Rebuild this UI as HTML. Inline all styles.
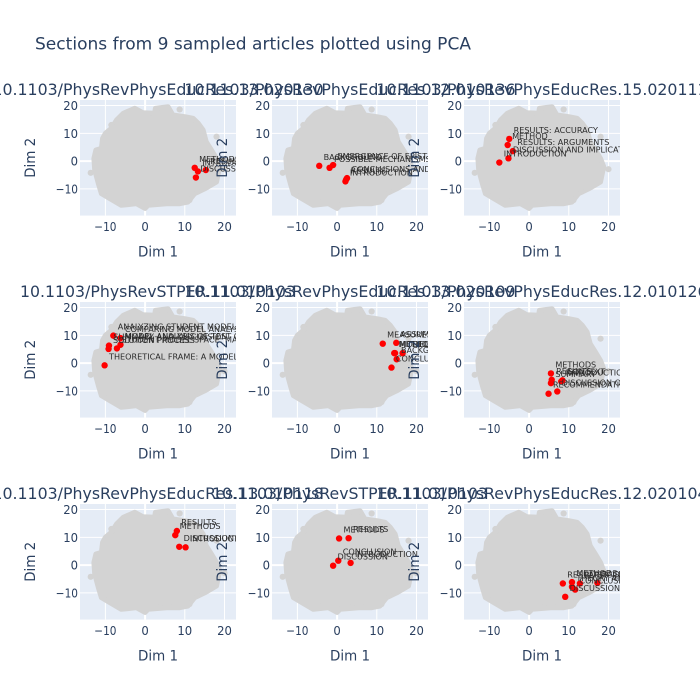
<!DOCTYPE html>
<html>
<head>
<meta charset="utf-8">
<style>
html,body{margin:0;padding:0;background:#fff;width:700px;height:700px;overflow:hidden}
svg{display:block}
text{font-family:"DejaVu Sans","Liberation Sans",sans-serif;fill:#2a3f5f}
</style>
</head>
<body>
<svg id="chart" width="700" height="700" viewBox="0 0 700 700" xmlns="http://www.w3.org/2000/svg">
<defs id="clips"></defs>
<g id="panels"></g>
<g id="overlays"></g>
<text x="35" y="49.5" font-size="16.5" textLength="436" lengthAdjust="spacingAndGlyphs">Sections from 9 sampled articles plotted using PCA</text>
</svg>
<script>
const xTicks = [-10, 0, 10, 20];
const yTicks = [-10, 0, 10, 20];
const tickText = {"-10": "\u221210", "0": "0", "10": "10", "20": "20"};

// Background corpus cloud, outline (data units)
const cloudX = [-12.9,-12.4,-11,-10.7,-10,-8.5,-7.2,-5.5,-2.6,-0.5,2.4,2.6,5.8,7,10,12.1,13.4,14.6,15.4,16.7,18,18.8,18,15,12.5,10.8,8.7,5.4,0.75,0,-2.2,-6,-8.9,-11,-11.8,-12.7];
const cloudY = [1,4,4.6,8.2,10,11.8,14.8,17.2,19,17.4,17.2,19,19.6,16.6,16,15.4,13.6,11.2,7,4,1,-2,-7.5,-10,-11.7,-14.7,-15.3,-15.3,-15.9,-17,-15.3,-15.9,-13.5,-11.7,-8,-3.2];
const strayX = [-13.7, 20, 18, 8.7, -8.5, -4.8, -10.9, 16.6, 13.2, 11.2, 7.3, 3.6, -4.2];
const strayY = [-4.2, -2.9, 8.8, 18.6, 13, -14.5, -10.8, -8, -11, -14, -14.8, -15.2, 17.2];

// One entry per subplot
const panelTitles = [
  "10.1103/PhysRevPhysEducRes.13.020130",
  "10.1103/PhysRevPhysEducRes.12.010136",
  "10.1103/PhysRevPhysEducRes.15.020111",
  "10.1103/PhysRevSTPER.11.010103",
  "10.1103/PhysRevPhysEducRes.13.020109",
  "10.1103/PhysRevPhysEducRes.12.010126",
  "10.1103/PhysRevPhysEducRes.13.010118",
  "10.1103/PhysRevSTPER.11.010103",
  "10.1103/PhysRevPhysEducRes.12.020104"
];
const dim1 = [
  [12.5,13.3,15.3,12.8],
  [-4.5,-1.9,-1,2.5,2.1,2.3],
  [-5,-5.4,-4.1,-5.2,-7.5],
  [-8,-6.2,-9.1,-9.2,-7.1,-6.2,-10.2],
  [11.5,14.9,14.6,16.5,15,13.7,14.4],
  [5.5,5.7,5.5,8.1,7.1,4.9,8.4],
  [8,7.6,8.6,10.2],
  [2.9,0.5,0.3,-1,3.4],
  [8.5,10.8,10.8,11.6,12.8,17.2,9.1]
];
const dim2 = [
  [-2.4,-3.7,-3.2,-5.9],
  [-1.7,-2.4,-1.4,-6.1,-7.3,-6.6],
  [8,5.8,3.6,1,-0.5],
  [9.9,9,6.3,5.1,5.3,6.6,-0.8],
  [7,7.3,3.6,3.6,1.4,-1.6,3.6],
  [-3.7,-6,-7.2,-6.6,-10.2,-11,-6.2],
  [12.3,10.8,6.6,6.4],
  [9.7,9.6,1.6,-0.2,0.8],
  [-6.6,-6.1,-7.8,-8.8,-6.6,-6.4,-11.4]
];
const sections = [
  ["METHODS","INTRODUCTION","RESULTS","DISCUSSION"],
  ["BACKGROUND","POSSIBLE MECHANISMS","EMERGENCE OF EPISTEMIC","CONCLUSIONS AND IMPLICATIONS","INTRODUCTION","RESULTS"],
  ["RESULTS: ACCURACY","METHOD","RESULTS: ARGUMENTS","DISCUSSION AND IMPLICATIONS","INTRODUCTION"],
  ["ANALYZING STUDENT MODELS","COMPARING MODEL ANALYSIS","SUMMARY AND DISCUSSION","SOLUTION PROCESS","STUDENT MODEL SPACE: MAPPING","MODEL ANALYSIS OF TEST QUESTIONS","THEORETICAL FRAME: A MODEL"],
  ["MEASURES","ASSUMPTIONS","MODEL","THEORY","BACKGROUND","CONCLUSIONS","METHODS"],
  ["METHODS","RESULTS","SUMMARY","INTRODUCTION","DISCUSSION OF RESULTS","RECOMMENDATIONS","CONTEXT"],
  ["RESULTS","METHODS","DISCUSSION","INTRODUCTION"],
  ["RESULTS","METHODS","CONCLUSION","DISCUSSION","INTRODUCTION"],
  ["RESULTS","METHODS","THEORY AND MODEL","CONCLUSIONS","PARTICIPANTS","BACKGROUND","DISCUSSION"]
];

const NS = "http://www.w3.org/2000/svg";
const panelsG = document.getElementById("panels");
const overlays = document.getElementById("overlays");
const clips = document.getElementById("clips");
const colLeft = [80, 272, 464];
const rowTop = [100, 302, 504];
const plotW = 156, plotH = 115.6;
const xMin = -16.4, xMax = 22.9, yMin = -19.6, yMax = 22;

function mk(tag, attrs, parent) {
  const el = document.createElementNS(NS, tag);
  for (const k in attrs) el.setAttribute(k, attrs[k]);
  parent.appendChild(el);
  return el;
}

panelTitles.forEach(function (title, i) {
  const left = colLeft[i % 3], top = rowTop[Math.floor(i / 3)];
  const sx = function (v) { return left + (v - xMin) / (xMax - xMin) * plotW; };
  const sy = function (v) { return top + (yMax - v) / (yMax - yMin) * plotH; };

  const clip = mk("clipPath", {id: "clip" + i}, clips);
  mk("rect", {x: left, y: top, width: plotW, height: plotH}, clip);

  const g = mk("g", {}, panelsG);
  
  

  const bg = mk("rect", {x: left, y: top, width: plotW, height: plotH, fill: "#E5ECF6"}, g);
  
  

  xTicks.forEach(function (t) {
    const line = mk("line", {x1: sx(t), x2: sx(t), y1: top, y2: top + plotH, stroke: "#fff", "stroke-width": t === 0 ? 2 : 1}, g);
    
    
    const label = mk("text", {x: sx(t), y: top + plotH + 15.5, "font-size": 12.5, "text-anchor": "middle", textLength: String(tickText[t]).length * 7.4, lengthAdjust: "spacingAndGlyphs"}, g);
    label.textContent = tickText[t];
    
    
  });
  yTicks.forEach(function (t) {
    const line = mk("line", {x1: left, x2: left + plotW, y1: sy(t), y2: sy(t), stroke: "#fff", "stroke-width": t === 0 ? 2 : 1}, g);
    
    
    const label = mk("text", {x: left - 2, y: sy(t) + 4.5, "font-size": 12.5, "text-anchor": "end", textLength: String(tickText[t]).length * 7.4, lengthAdjust: "spacingAndGlyphs"}, g);
    label.textContent = tickText[t];
    
    
  });

  const inner = mk("g", {"clip-path": "url(#clip" + i + ")"}, g);
  
  

  const outline = cloudX.map(function (x, k) { return sx(x).toFixed(1) + "," + sy(cloudY[k]).toFixed(1); }).join(" ");
  const cloud = mk("polygon", {points: outline, fill: "#D3D3D3", stroke: "#D3D3D3", "stroke-width": 5, "stroke-linejoin": "round"}, inner);
  
  
  strayX.forEach(function (x, k) {
    const c = mk("circle", {cx: sx(x), cy: sy(strayY[k]), r: 3.1, fill: "#D3D3D3"}, inner);
    
    
  });

  dim1[i].forEach(function (x, k) {
    const c = mk("circle", {cx: sx(x), cy: sy(dim2[i][k]), r: 3.2, fill: "#FF0000"}, inner);
    
    
  });
  dim1[i].forEach(function (x, k) {
    const t = mk("text", {x: sx(x) + 4.4, y: sy(dim2[i][k]) - 6, "font-size": 8.1, style: "fill:#2b2b2b"}, inner);
    t.textContent = sections[i][k];
    
    
  });

  const xt = mk("text", {x: left + plotW / 2, y: top + plotH + 41, "font-size": 14, "text-anchor": "middle", textLength: 40, lengthAdjust: "spacingAndGlyphs"}, overlays);
  xt.textContent = "Dim 1";
  
  

  const yx = left - 45, yy = top + plotH / 2;
  const yt = mk("text", {x: yx, y: yy, "font-size": 14, "text-anchor": "middle", textLength: 40, lengthAdjust: "spacingAndGlyphs", transform: "rotate(-90 " + yx + " " + yy + ")"}, overlays);
  yt.textContent = "Dim 2";
  
  

  const st = mk("text", {x: left + plotW / 2, y: top - 5, "font-size": 16, "text-anchor": "middle", textLength: title.length * 9.2, lengthAdjust: "spacingAndGlyphs"}, overlays);
  st.textContent = title;
  
  
});
</script>
</body>
</html>
